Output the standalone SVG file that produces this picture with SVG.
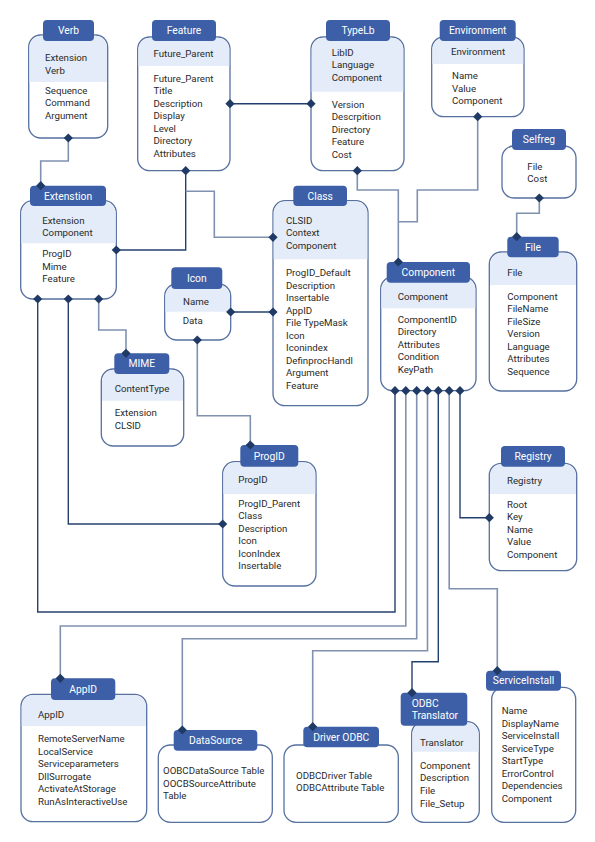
<svg xmlns="http://www.w3.org/2000/svg" xmlns:xlink="http://www.w3.org/1999/xlink" width="595" height="842" viewBox="0 0 595 842">
<defs>
<style>
.body{fill:#ffffff;stroke:#5670a0;stroke-width:1.3}
.shade{fill:#e3ecf8;stroke:none}
.tab{fill:#3d5fa7}
.tl{font-family:Roboto,"Liberation Sans",sans-serif;font-size:10.3px;font-weight:normal;fill:#ffffff;text-anchor:middle}
.tls{font-family:Roboto,"Liberation Sans",sans-serif;font-size:10.3px;font-weight:normal;fill:#ffffff;text-anchor:start}
.tx{font-family:Roboto,"Liberation Sans",sans-serif;font-size:9.7px;fill:#2a2a2a}
.txc{font-family:Roboto,"Liberation Sans",sans-serif;font-size:9.7px;fill:#2a2a2a;text-anchor:middle}
.cd{fill:none;stroke:#24406e;stroke-width:1.4}
.cg{fill:none;stroke:#8091b0;stroke-width:1.6}
.dm{fill:#1f3a64}
</style>
<path id="d" d="M0,-4.6 L4.6,0 L0,4.6 L-4.6,0 Z"/>
</defs>
<rect width="595" height="842" fill="#ffffff"/>

<g id="connectors">
<polyline class="cg" points="68.3,138 68.3,161 40.7,161 40.7,185.7"/>
<polyline class="cd" points="230,103.7 311,103.7"/>
<polyline class="cd" points="185.7,170.7 185.7,250 116.3,250"/>
<polyline class="cg" points="185.7,191.3 214.3,191.3 214.3,237.3 273,237.3"/>
<polyline class="cg" points="357.3,170.7 357.3,190 398.3,190 398.3,262"/>
<polyline class="cg" points="477.7,116.7 477.7,190 417.3,190 417.3,221.7 398.3,221.7"/>
<polyline class="cg" points="539.3,198 539.3,213.3 516.7,213.3 516.7,236.7"/>
<polyline class="cg" points="98.7,299 98.7,330 126,330 126,353.3"/>
<polyline class="cd" points="230.7,312 273,312"/>
<polyline class="cg" points="197.3,340 197.3,415.7 250.3,415.7 250.3,445"/>
<polyline class="cd" points="68.3,299 68.3,524 222.7,524"/>
<polyline class="cd" points="37.7,299 37.7,612 395,612 395,390.7"/>
<polyline class="cg" points="405.8,390.7 405.8,626 60.3,626 60.3,678.3"/>
<polyline class="cg" points="416.7,390.7 416.7,638.7 182.3,638.7 182.3,730"/>
<polyline class="cg" points="427.5,390.7 427.5,650.7 312.7,650.7 312.7,726.7"/>
<polyline class="cd" points="438.3,390.7 438.3,661.7 412,661.7 412,692.7"/>
<polyline class="cg" points="449.2,390.7 449.2,588.7 497.3,588.7 497.3,670.7"/>
<polyline class="cd" points="460,390.7 460,517.7 489.3,517.7"/>
</g>

<g id="Verb">
<rect class="body" x="28.7" y="35" width="79" height="103" rx="12"/>
<path class="shade" d="M29.4,82 V47 A12,12 0 0 1 40.7,35.7 H95.7 A12,12 0 0 1 107,47 V82 Z"/>
<rect class="tab" x="43" y="20" width="51" height="21" rx="4"/>
<text class="tl" x="68.5" y="34">Verb</text>
<text class="tx" x="45" y="61">Extension</text>
<text class="tx" x="45" y="73.5">Verb</text>
<text class="tx" x="45" y="93.5">Sequence</text>
<text class="tx" x="45" y="106">Command</text>
<text class="tx" x="45" y="118.5">Argument</text>
</g>

<g id="Feature">
<rect class="body" x="137.7" y="37" width="92.3" height="133.7" rx="12"/>
<path class="shade" d="M138.4,66 V49 A12,12 0 0 1 149.7,37.7 H218 A12,12 0 0 1 229.3,49 V66 Z"/>
<rect class="tab" x="152" y="20" width="64" height="21" rx="4"/>
<text class="tl" x="184" y="34">Feature</text>
<text class="tx" x="153.5" y="56.5">Future_Parent</text>
<text class="tx" x="153.5" y="81.5">Future_Parent</text>
<text class="tx" x="153.5" y="94">Title</text>
<text class="tx" x="153.5" y="106.5">Description</text>
<text class="tx" x="153.5" y="119">Display</text>
<text class="tx" x="153.5" y="131.5">Level</text>
<text class="tx" x="153.5" y="144">Directory</text>
<text class="tx" x="153.5" y="156.5">Attributes</text>
</g>

<g id="TypeLb">
<rect class="body" x="311" y="37" width="93" height="133.7" rx="12"/>
<path class="shade" d="M311.7,91.7 V49 A12,12 0 0 1 323,37.7 H392 A12,12 0 0 1 403.3,49 V91.7 Z"/>
<rect class="tab" x="326" y="20" width="64" height="21" rx="4"/>
<text class="tl" x="358" y="34">TypeLb</text>
<text class="tx" x="331.7" y="55.8">LibID</text>
<text class="tx" x="331.7" y="68.3">Language</text>
<text class="tx" x="331.7" y="80.8">Component</text>
<text class="tx" x="331.7" y="107.5">Version</text>
<text class="tx" x="331.7" y="120">Descrpition</text>
<text class="tx" x="331.7" y="132.5">Directory</text>
<text class="tx" x="331.7" y="145">Feature</text>
<text class="tx" x="331.7" y="157.5">Cost</text>
</g>

<g id="Environment">
<rect class="body" x="431.7" y="37" width="92.3" height="79.7" rx="12"/>
<path class="shade" d="M432.4,64 V49 A12,12 0 0 1 443.7,37.7 H512 A12,12 0 0 1 523.3,49 V64 Z"/>
<rect class="tab" x="439.7" y="20" width="76" height="21" rx="4"/>
<text class="tl" x="477.7" y="34">Environment</text>
<text class="txc" x="478" y="54.8">Environment</text>
<text class="tx" x="452" y="79">Name</text>
<text class="tx" x="452" y="91.5">Value</text>
<text class="tx" x="452" y="104">Component</text>
</g>

<g id="Selfreg">
<rect class="body" x="502" y="146" width="74" height="52" rx="12"/>
<rect class="tab" x="512" y="129" width="54" height="21" rx="4"/>
<text class="tl" x="539" y="143">Selfreg</text>
<text class="tx" x="527.3" y="169.5">File</text>
<text class="tx" x="527.3" y="182">Cost</text>
</g>

<g id="File">
<rect class="body" x="489.3" y="252" width="87.4" height="139" rx="12"/>
<path class="shade" d="M490,285 V264 A12,12 0 0 1 501.3,252.7 H564.7 A12,12 0 0 1 576,264 V285 Z"/>
<rect class="tab" x="507.3" y="236.7" width="51.4" height="20.6" rx="4"/>
<text class="tl" x="533" y="250.5">File</text>
<text class="tx" x="507.3" y="275.5">File</text>
<text class="tx" x="507.3" y="299.5">Component</text>
<text class="tx" x="507.3" y="312">FileName</text>
<text class="tx" x="507.3" y="324.5">FileSize</text>
<text class="tx" x="507.3" y="337">Version</text>
<text class="tx" x="507.3" y="349.5">Language</text>
<text class="tx" x="507.3" y="362">Attributes</text>
<text class="tx" x="507.3" y="374.5">Sequence</text>
</g>

<g id="Component">
<rect class="body" x="380.7" y="277" width="95.3" height="113.7" rx="12"/>
<path class="shade" d="M381.4,308.3 V289 A12,12 0 0 1 392.7,277.7 H464 A12,12 0 0 1 475.3,289 V308.3 Z"/>
<rect class="tab" x="386.7" y="262" width="83.3" height="20.7" rx="4"/>
<text class="tl" x="428.3" y="275.8">Component</text>
<text class="tx" x="397.7" y="299.5">Component</text>
<text class="tx" x="397.7" y="322.5">ComponentID</text>
<text class="tx" x="397.7" y="335">Directory</text>
<text class="tx" x="397.7" y="347.5">Attributes</text>
<text class="tx" x="397.7" y="360">Condition</text>
<text class="tx" x="397.7" y="372.5">KeyPath</text>
</g>

<g id="Extension">
<rect class="body" x="20.7" y="200.7" width="95.6" height="98.3" rx="12"/>
<path class="shade" d="M21.4,243.3 V212.7 A12,12 0 0 1 32.7,201.4 H104.3 A12,12 0 0 1 115.6,212.7 V243.3 Z"/>
<rect class="tab" x="30" y="185.7" width="76" height="20.3" rx="4"/>
<text class="tl" x="68" y="199.5">Extenstion</text>
<text class="tx" x="42.3" y="223.8">Extension</text>
<text class="tx" x="42.3" y="236.3">Component</text>
<text class="tx" x="42.3" y="257.2">ProgID</text>
<text class="tx" x="42.3" y="269.8">Mime</text>
<text class="tx" x="42.3" y="282.2">Feature</text>
</g>

<g id="Class">
<rect class="body" x="273" y="200.7" width="95" height="205" rx="12"/>
<path class="shade" d="M273.7,259.3 V212.7 A12,12 0 0 1 285,201.4 H356 A12,12 0 0 1 367.3,212.7 V259.3 Z"/>
<rect class="tab" x="293.3" y="185.7" width="53.7" height="20.3" rx="4"/>
<text class="tl" x="320.2" y="199.5">Class</text>
<text class="tx" x="286" y="223.8">CLSID</text>
<text class="tx" x="286" y="236.3">Context</text>
<text class="tx" x="286" y="248.5">Component</text>
<text class="tx" x="286" y="276.2">ProgID_Default</text>
<text class="tx" x="286" y="288.8">Description</text>
<text class="tx" x="286" y="301.2">Insertable</text>
<text class="tx" x="286" y="313.8">AppID</text>
<text class="tx" x="286" y="326.2">File TypeMask</text>
<text class="tx" x="286" y="338.8">Icon</text>
<text class="tx" x="286" y="351.2">Iconindex</text>
<text class="tx" x="286" y="363.8">DefinprocHandl</text>
<text class="tx" x="286" y="376.2">Argument</text>
<text class="tx" x="286" y="388.8">Feature</text>
</g>

<g id="Icon">
<rect class="body" x="164.7" y="284" width="66" height="56" rx="12"/>
<path class="shade" d="M165.4,311.7 V296 A12,12 0 0 1 176.7,284.7 H218.7 A12,12 0 0 1 230,296 V311.7 Z"/>
<rect class="tab" x="171.3" y="267.3" width="51" height="21.7" rx="4"/>
<text class="tl" x="196.8" y="281.8">Icon</text>
<text class="txc" x="196" y="305.2">Name</text>
<text class="tx" x="182.7" y="323.8">Data</text>
</g>

<g id="MIME">
<rect class="body" x="101.3" y="369" width="82.4" height="77" rx="12"/>
<path class="shade" d="M102,400.7 V381 A12,12 0 0 1 113.3,369.7 H171.7 A12,12 0 0 1 183,381 V400.7 Z"/>
<rect class="tab" x="114.3" y="353.3" width="55" height="20.7" rx="4"/>
<text class="tl" x="141.8" y="367.2">MIME</text>
<text class="tx" x="114.7" y="392.2">ContentType</text>
<text class="tx" x="114.7" y="415.8">Extension</text>
<text class="tx" x="114.7" y="428.8">CLSID</text>
</g>

<g id="ProgID">
<rect class="body" x="222.7" y="461.7" width="93.3" height="124.3" rx="12"/>
<path class="shade" d="M223.4,494 V473.7 A12,12 0 0 1 234.7,462.4 H304 A12,12 0 0 1 315.3,473.7 V494 Z"/>
<rect class="tab" x="240.3" y="445" width="58" height="21.7" rx="4"/>
<text class="tl" x="269.3" y="459.5">ProgID</text>
<text class="tx" x="238.3" y="482.5">ProgID</text>
<text class="tx" x="238.3" y="506.5">ProgID_Parent</text>
<text class="tx" x="238.3" y="519.2">Class</text>
<text class="tx" x="238.3" y="531.8">Description</text>
<text class="tx" x="238.3" y="544.2">Icon</text>
<text class="tx" x="238.3" y="556.8">IconIndex</text>
<text class="tx" x="238.3" y="569.2">Insertable</text>
</g>

<g id="Registry">
<rect class="body" x="489.3" y="463.3" width="87.4" height="107.4" rx="12"/>
<path class="shade" d="M490,494 V475.3 A12,12 0 0 1 501.3,464 H564.7 A12,12 0 0 1 576,475.3 V494 Z"/>
<rect class="tab" x="501" y="446" width="64" height="20.7" rx="4"/>
<text class="tl" x="533" y="460">Registry</text>
<text class="tx" x="507" y="483.5">Registry</text>
<text class="tx" x="507" y="507.8">Root</text>
<text class="tx" x="507" y="520.2">Key</text>
<text class="tx" x="507" y="532.8">Name</text>
<text class="tx" x="507" y="545.2">Value</text>
<text class="tx" x="507" y="557.8">Component</text>
</g>

<g id="AppID">
<rect class="body" x="21" y="694.3" width="125.7" height="127.4" rx="12"/>
<path class="shade" d="M21.7,726 V706.3 A12,12 0 0 1 33,695 H134.7 A12,12 0 0 1 146,706.3 V726 Z"/>
<rect class="tab" x="51" y="678.3" width="64.3" height="21.7" rx="4"/>
<text class="tl" x="83.2" y="692.8">AppID</text>
<text class="tx" x="38" y="718.2">AppID</text>
<text class="tx" x="38" y="741.8">RemoteServerName</text>
<text class="tx" x="38" y="754.5">LocalService</text>
<text class="tx" x="38" y="767.2">Serviceparameters</text>
<text class="tx" x="38" y="779.5">DllSurrogate</text>
<text class="tx" x="38" y="792.2">ActivateAtStorage</text>
<text class="tx" x="38" y="804.5">RunAsInteractiveUse</text>
</g>

<g id="DataSource">
<rect class="body" x="158.3" y="745" width="114" height="77.3" rx="12"/>
<rect class="tab" x="173.7" y="730" width="83.6" height="20.7" rx="4"/>
<text class="tl" x="215.5" y="743.8">DataSource</text>
<text class="tx" x="163" y="774.2">OOBCDataSource Table</text>
<text class="tx" x="163" y="786.8">OOCBSourceAttribute</text>
<text class="tx" x="163" y="799.2">Table</text>
</g>

<g id="DriverODBC">
<rect class="body" x="284" y="745" width="114.3" height="77.3" rx="12"/>
<rect class="tab" x="303.3" y="726.7" width="75.7" height="20.6" rx="4"/>
<text class="tl" x="341.2" y="740.5">Driver ODBC</text>
<text class="tx" x="296" y="778.5">ODBCDriver Table</text>
<text class="tx" x="296" y="791.2">ODBCAttribute Table</text>
</g>

<g id="ODBCTranslator">
<rect class="body" x="411.7" y="721.7" width="67.6" height="100.6" rx="12"/>
<path class="shade" d="M412.4,751.7 V733.7 A12,12 0 0 1 423.7,722.4 H467.3 A12,12 0 0 1 478.6,733.7 V751.7 Z"/>
<rect class="tab" x="400.7" y="692.7" width="66.6" height="33" rx="4"/>
<text class="tls" x="411.7" y="706.5">ODBC</text>
<text class="tls" x="411.7" y="719.2">Translator</text>
<text class="tx" x="420" y="745.5">Translator</text>
<text class="tx" x="420" y="768.8">Component</text>
<text class="tx" x="420" y="781.2">Description</text>
<text class="tx" x="420" y="793.8">File</text>
<text class="tx" x="420" y="806.5">File_Setup</text>
</g>

<g id="ServiceInstall">
<rect class="body" x="491.7" y="687.3" width="84" height="135" rx="12"/>
<rect class="tab" x="486" y="670.7" width="75" height="20" rx="4"/>
<text class="tl" x="523.5" y="684.2">ServiceInstall</text>
<text class="tx" x="501.7" y="713.8">Name</text>
<text class="tx" x="501.7" y="726.5">DisplayName</text>
<text class="tx" x="501.7" y="738.8">ServiceInstall</text>
<text class="tx" x="501.7" y="751.5">ServiceType</text>
<text class="tx" x="501.7" y="764.2">StartType</text>
<text class="tx" x="501.7" y="776.8">ErrorControl</text>
<text class="tx" x="501.7" y="789.2">Dependencies</text>
<text class="tx" x="501.7" y="801.8">Component</text>
</g>

<g id="diamonds">
<use href="#d" class="dm" x="68.3" y="138"/>
<use href="#d" class="dm" x="40.7" y="185.7"/>
<use href="#d" class="dm" x="230" y="103.7"/>
<use href="#d" class="dm" x="311" y="103.7"/>
<use href="#d" class="dm" x="185.7" y="170.7"/>
<use href="#d" class="dm" x="116.3" y="250"/>
<use href="#d" class="dm" x="273" y="237.3"/>
<use href="#d" class="dm" x="357.3" y="170.7"/>
<use href="#d" class="dm" x="398.3" y="262"/>
<use href="#d" class="dm" x="477.7" y="116.7"/>
<use href="#d" class="dm" x="539.3" y="198"/>
<use href="#d" class="dm" x="516.7" y="236.7"/>
<use href="#d" class="dm" x="37.7" y="299"/>
<use href="#d" class="dm" x="68.3" y="299"/>
<use href="#d" class="dm" x="98.7" y="299"/>
<use href="#d" class="dm" x="126" y="353.3"/>
<use href="#d" class="dm" x="230.7" y="312"/>
<use href="#d" class="dm" x="273" y="312"/>
<use href="#d" class="dm" x="197.3" y="340"/>
<use href="#d" class="dm" x="250.3" y="445"/>
<use href="#d" class="dm" x="222.7" y="524"/>
<use href="#d" class="dm" x="395" y="390.7"/>
<use href="#d" class="dm" x="405.8" y="390.7"/>
<use href="#d" class="dm" x="416.7" y="390.7"/>
<use href="#d" class="dm" x="427.5" y="390.7"/>
<use href="#d" class="dm" x="438.3" y="390.7"/>
<use href="#d" class="dm" x="449.2" y="390.7"/>
<use href="#d" class="dm" x="460" y="390.7"/>
<use href="#d" class="dm" x="60.3" y="678.3"/>
<use href="#d" class="dm" x="182.3" y="730"/>
<use href="#d" class="dm" x="312.7" y="726.7"/>
<use href="#d" class="dm" x="412" y="692.7"/>
<use href="#d" class="dm" x="497.3" y="670.7"/>
<use href="#d" class="dm" x="489.3" y="517.7"/>
</g>
</svg>
